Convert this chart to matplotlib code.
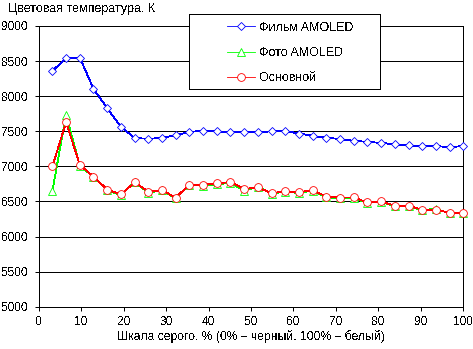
import numpy as np
import matplotlib
matplotlib.use("Agg")
import matplotlib.pyplot as plt
from matplotlib.patches import Rectangle

plt.rcParams['font.family'] = ['Liberation Sans', 'DejaVu Sans']
plt.rcParams['text.antialiased'] = False

# Grey-scale steps (percent of white) and measured colour temperature, K
n_steps = 31
gray_pct = [100.0 * k / n_steps for k in range(1, n_steps + 1)]

film_amoled = [8357, 8549, 8549, 8106, 7829, 7563, 7406, 7391, 7406, 7443,
               7491, 7506, 7500, 7486, 7486, 7486, 7500, 7506, 7467, 7435,
               7406, 7391, 7363, 7349, 7334, 7314, 7300, 7286, 7291, 7271,
               7291]
photo_amoled = [6650, 7735, 7010, 6850, 6660, 6590, 6775, 6625, 6660, 6545,
                6735, 6725, 6745, 6765, 6655, 6710, 6610, 6640, 6620, 6655,
                6560, 6545, 6545, 6480, 6495, 6430, 6430, 6375, 6395, 6330,
                6330]
basic = [7000, 7630, 7020, 6855, 6670, 6600, 6770, 6640, 6660, 6555,
         6740, 6735, 6757, 6777, 6677, 6700, 6617, 6645, 6630, 6662,
         6569, 6555, 6557, 6486, 6500, 6439, 6441, 6381, 6383, 6340,
         6340]

series_names = ["Фильм AMOLED", "Фото AMOLED", "Основной"]
x_ticks = list(range(0, 101, 10))
y_ticks = list(range(5000, 9001, 500))

W, H = 473, 349
fig = plt.figure(figsize=(W / 100, H / 100), dpi=100)
ax = fig.add_axes([38.7 / W, 1 - 306.7 / H, (463.3 - 38.7) / W, (306.7 - 26.0) / H])

lw = 0.72
dlw = 0.6
common = dict(lw=dlw, markeredgewidth=dlw, markerfacecolor='white', antialiased=False)
l1, = ax.plot(gray_pct, film_amoled, color='#0000ff', marker='D', ms=4.3, zorder=3, **common)
l2, = ax.plot(gray_pct, photo_amoled, color='#00ff00', marker='^', ms=5.8, zorder=4, **common)
l3, = ax.plot(gray_pct, basic, color='#ff0000', marker='o', ms=5.6, zorder=5, **common)
for ln in (l1, l2, l3):
    ln.set_clip_on(False)

ax.set_xlim(0, 100)
ax.set_ylim(5000, 9000)
ax.set_xticks(x_ticks)
ax.set_yticks(y_ticks)
ax.yaxis.grid(True, color='black', lw=lw, antialiased=False)
ax.set_axisbelow(True)
ax.spines['top'].set_visible(False)
for side in ('left', 'right', 'bottom'):
    ax.spines[side].set_linewidth(lw)
    ax.spines[side].set_antialiased(False)
ax.tick_params(axis='both', direction='out', length=3, width=lw, labelsize=8.6,
               colors='black')
ax.tick_params(axis='y', pad=4.5)
ax.tick_params(axis='x', pad=3.5)
ax.set_xlabel("Шкала серого, % (0% – черный, 100% – белый)", fontsize=8.7, labelpad=2)

fig.text(8 / W, 1 - 12 / H, "Цветовая температура, К", fontsize=9, va='baseline', ha='left')

# legend frame, drawn over the gridlines
box = Rectangle((189.3 / W, 1 - 89.3 / H), (380.3 - 189.3) / W, (89.3 - 14.3) / H,
                transform=fig.transFigure, facecolor='white', edgecolor='black',
                lw=lw, zorder=10, antialiased=False)
fig.patches.append(box)
leg = fig.legend([l1, l2, l3], series_names, loc='upper left',
                 bbox_to_anchor=(221 / W, 1 - 15.5 / H), bbox_transform=fig.transFigure,
                 frameon=False, borderpad=0, handlelength=2.2, handletextpad=0.35,
                 labelspacing=1.05, fontsize=9, numpoints=1)
leg.set_zorder(11)

fig.savefig("out.png", dpi=100)
